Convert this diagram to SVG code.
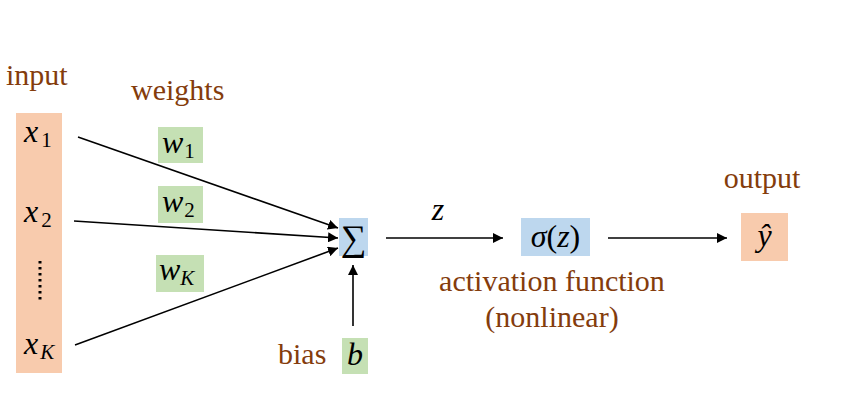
<svg xmlns="http://www.w3.org/2000/svg" width="841" height="405" viewBox="0 0 841 405">
<style>
.lbl{font-family:"Liberation Serif","DejaVu Serif",serif;font-size:30px;fill:#843C0C}
.m{font-family:"Liberation Serif","DejaVu Serif",serif;font-style:italic;font-size:32px;fill:#000}
.sub{font-family:"Liberation Serif","DejaVu Serif",serif;font-style:normal;font-size:21px;fill:#000}
.subi{font-family:"Liberation Serif","DejaVu Serif",serif;font-style:italic;font-size:21px;fill:#000}
.ln{stroke:#000;stroke-width:1.6;fill:none}
</style>
<defs>
<marker id="ah" viewBox="0 0 10 10" refX="10" refY="5" markerWidth="10" markerHeight="10" markerUnits="userSpaceOnUse" orient="auto">
<path d="M0,0 L10,5 L0,10 z" fill="#000"/>
</marker>
</defs>
<rect width="841" height="405" fill="#fff"/>
<g id="input">
<text class="lbl" x="6" y="85">input</text>
<rect x="16" y="113" width="46" height="260" fill="#F8CBAD"/>
<text class="m" x="24" y="142">x<tspan class="sub" dx="3" dy="5">1</tspan></text>
<text class="m" x="24" y="222">x<tspan class="sub" dx="3" dy="5">2</tspan></text>
<line x1="40" y1="261" x2="40" y2="302" stroke="#000" stroke-width="3" stroke-dasharray="2.5,3.5"/>
<text class="m" x="24" y="354">x<tspan class="subi" dx="2" dy="5">K</tspan></text>
</g>
<g id="weights">
<text class="lbl" x="131" y="100">weights</text>
<rect x="158" y="127" width="45" height="36" fill="#C5E0B4"/>
<text class="m" x="162" y="153">w<tspan class="sub" dx="1" dy="5">1</tspan></text>
<rect x="158" y="186" width="45" height="37" fill="#C5E0B4"/>
<text class="m" x="162" y="212">w<tspan class="sub" dx="1" dy="5">2</tspan></text>
<rect x="156" y="255" width="48" height="37" fill="#C5E0B4"/>
<text class="m" x="159" y="280">w<tspan class="subi" dx="0" dy="5">K</tspan></text>
</g>
<g id="sum">
<rect x="339" y="218" width="29" height="38" fill="#BDD7EE"/>
<text x="353.5" y="250" text-anchor="middle" style="font-family:'Liberation Serif','DejaVu Serif',serif;font-size:36px">∑</text>
</g>
<g id="bias">
<text class="lbl" x="278" y="364">bias</text>
<rect x="342" y="338" width="26" height="36" fill="#C5E0B4"/>
<text class="m" x="355" y="365" text-anchor="middle">b</text>
</g>
<g id="activation">
<rect x="521" y="218" width="69" height="38" fill="#BDD7EE"/>
<text class="m" x="555.5" y="247" text-anchor="middle">σ<tspan font-style="normal">(</tspan>z<tspan font-style="normal">)</tspan></text>
<text class="lbl" x="552" y="291" text-anchor="middle">activation function</text>
<text class="lbl" x="552" y="327" text-anchor="middle">(nonlinear)</text>
</g>
<g id="output">
<text class="lbl" x="762" y="188" text-anchor="middle">output</text>
<rect x="741" y="213" width="47" height="48" fill="#F8CBAD"/>
<text class="m" x="764.5" y="246" text-anchor="middle">ŷ</text>
</g>
<g id="connectors">
<line class="ln" x1="78" y1="137" x2="338" y2="228" marker-end="url(#ah)"/>
<line class="ln" x1="74" y1="221" x2="338" y2="238" marker-end="url(#ah)"/>
<line class="ln" x1="75" y1="345" x2="338" y2="248" marker-end="url(#ah)"/>
<line class="ln" x1="353" y1="326" x2="353" y2="265" marker-end="url(#ah)"/>
<line class="ln" x1="386" y1="238" x2="503" y2="238" marker-end="url(#ah)"/>
<text class="m" x="438" y="220" text-anchor="middle">z</text>
<line class="ln" x1="608" y1="238" x2="727" y2="238" marker-end="url(#ah)"/>
</g>
</svg>
